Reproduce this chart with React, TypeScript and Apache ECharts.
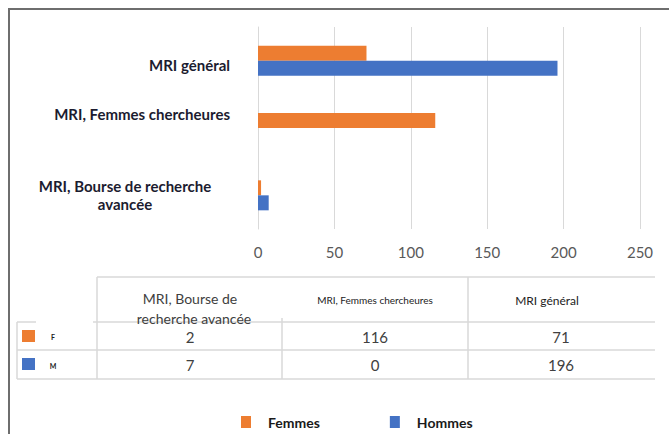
import React, { useEffect, useRef } from "react";
import * as echarts from "echarts";

const categories = [
  "MRI, Bourse de recherche avancée",
  "MRI, Femmes chercheures",
  "MRI général",
];
const femmes = [2, 116, 71];
const hommes = [7, 0, 196];
const xTicks = [0, 50, 100, 150, 200, 250];
const seriesNames = ["Femmes", "Hommes"];
const rowKeys = ["F", "M"];

const ORANGE = "#ED7D31";
const BLUE = "#4472C4";
const GRID = "#d9d9d9";
const FONT = "Lato, 'Open Sans', sans-serif";

export default function App() {
  const ref = useRef<HTMLDivElement>(null);
  useEffect(() => {
    if (!ref.current) return;
    const chart = echarts.init(ref.current, undefined, { renderer: "svg" });

    const colX = [190, 375, 561];
    const headerTexts: any[] = [
      { type: "text", x: 190, y: 298, style: { text: "MRI, Bourse de", fontSize: 14, fontFamily: FONT, fill: "#404040", align: "center", verticalAlign: "middle" } },
      { type: "text", x: 194, y: 318, style: { text: "recherche avancée", fontSize: 14, fontFamily: FONT, fill: "#404040", align: "center", verticalAlign: "middle" } },
      { type: "text", x: 375, y: 300, style: { text: categories[1], fontSize: 10, fontFamily: FONT, fill: "#222", align: "center", verticalAlign: "middle", letterSpacing: -0.3 } },
      { type: "text", x: 547, y: 300, style: { text: categories[2], fontSize: 12, fontFamily: FONT, fill: "#222", align: "center", verticalAlign: "middle", letterSpacing: -0.5 } },
    ];
    const valueTexts: any[] = [];
    [femmes, hommes].forEach((arr, r) => {
      arr.forEach((v, c) => {
        valueTexts.push({
          type: "text",
          x: colX[c],
          y: r === 0 ? 337 : 365,
          style: { text: String(v), fontSize: 15, fontFamily: FONT, fill: "#404040", align: "center", verticalAlign: "middle" },
        });
      });
    });
    const lineStyle = { stroke: GRID, lineWidth: 1.5 };
    const hline = (x1: number, x2: number, y: number) => ({ type: "line", shape: { x1, y1: y, x2, y2: y }, style: lineStyle });
    const vline = (x: number, y1: number, y2: number) => ({ type: "line", shape: { x1: x, y1, x2: x, y2 }, style: lineStyle });

    const labelBase = { fontSize: 15, fontWeight: "bold", fontFamily: FONT, color: "#1c1c30" };

    chart.setOption({
      animation: false,
      grid: { left: 258, right: 29, top: 27, bottom: 205 },
      legend: {
        data: seriesNames,
        left: 236,
        top: 410,
        icon: "rect",
        itemWidth: 10,
        itemHeight: 12,
        itemGap: 70,
        textStyle: { fontSize: 14, fontWeight: "bold", fontFamily: FONT, color: "#1a1a1a", padding: [0, 0, 0, 12] },
      },
      xAxis: {
        type: "value",
        min: 0,
        max: 250,
        interval: 50,
        axisLine: { show: false },
        axisTick: { show: false },
        splitLine: { show: true, lineStyle: { color: GRID, width: 1 } },
        axisLabel: {
          fontSize: 15,
          fontFamily: FONT,
          color: "#595959",
          margin: 15,
          formatter: (v: number) => (xTicks.includes(v) ? String(v) : ""),
        },
      },
      yAxis: {
        type: "category",
        data: categories,
        axisLine: { show: true, lineStyle: { color: GRID } },
        axisTick: { show: false },
        axisLabel: {
          margin: 28,
          ...labelBase,
          formatter: (v: string) => {
            if (v === categories[2]) return "{g|" + v + "}";
            if (v === categories[1]) return "{f|" + v + "}";
            return "{b|" + v.replace(/ (\S+)$/, "\n$1") + "}";
          },
          rich: {
            g: { ...labelBase, padding: [8, 0, 0, 0] },
            f: { ...labelBase, padding: [0, 0, 29, 0] },
            b: { ...labelBase, width: 210, align: "center", lineHeight: 18 },
          },
        },
      },
      series: [
        { name: seriesNames[0], type: "bar", data: femmes, itemStyle: { color: ORANGE }, barWidth: 15, barGap: "0%" },
        { name: seriesNames[1], type: "bar", data: hommes, itemStyle: { color: BLUE }, barWidth: 15, barGap: "0%" },
      ],
      graphic: [
        { type: "polyline", shape: { points: [[669, 9], [9, 9], [9, 434]] }, style: { stroke: "#6e6e6e", lineWidth: 2, fill: "none" } },
        hline(97, 655, 277),
        hline(17, 36, 322),
        hline(93, 655, 322),
        hline(17, 655, 350),
        hline(17, 655, 379),
        vline(17, 322, 379),
        vline(97, 277, 379),
        vline(282, 318, 379),
        vline(468, 277, 379),
        { type: "rect", shape: { x: 22, y: 330, width: 13, height: 12 }, style: { fill: ORANGE } },
        { type: "rect", shape: { x: 22, y: 358, width: 13, height: 12 }, style: { fill: BLUE } },
        { type: "text", x: 53, y: 337, style: { text: rowKeys[0], fontSize: 7, fontWeight: "bold", fontFamily: FONT, fill: "#222", align: "center", verticalAlign: "middle" } },
        { type: "text", x: 53, y: 366, style: { text: rowKeys[1], fontSize: 7, fontWeight: "bold", fontFamily: FONT, fill: "#222", align: "center", verticalAlign: "middle" } },
        ...headerTexts,
        ...valueTexts,
      ],
    });
    return () => chart.dispose();
  }, []);
  return <div ref={ref} style={{ position: "fixed", left: 0, top: 0, width: 669, height: 434, background: "#fff" }} />;
}
